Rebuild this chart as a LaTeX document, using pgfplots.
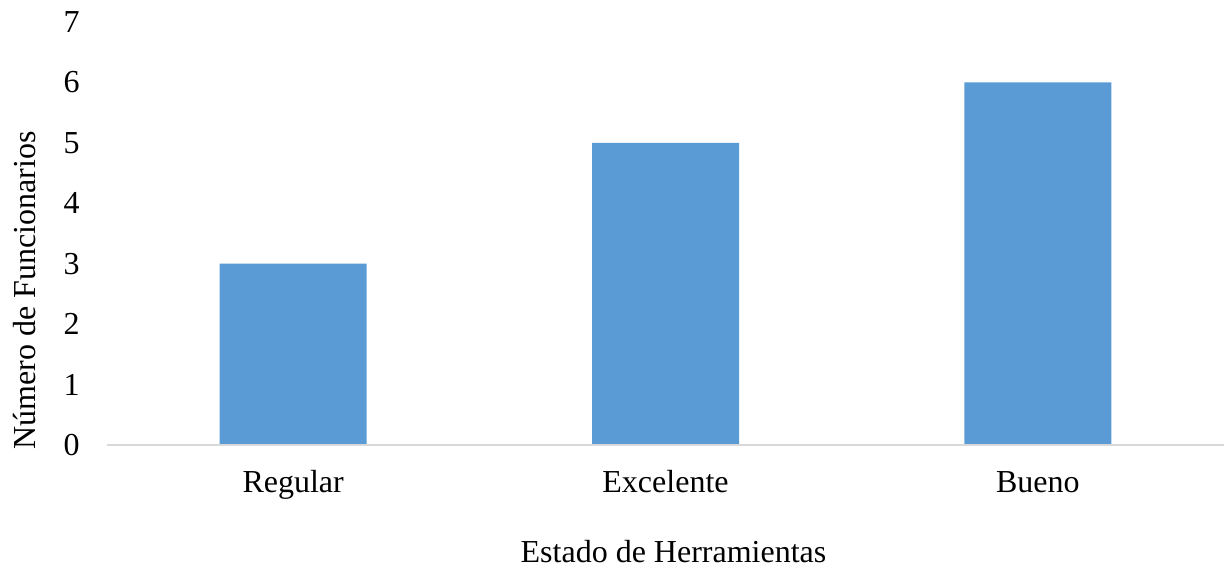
\documentclass[border=0pt]{standalone}
\usepackage{pgfplots}
\pgfplotsset{compat=1.18}
\usepackage{fontspec}
\setmainfont{Liberation Serif}
\definecolor{barblue}{HTML}{5B9BD5}
\definecolor{axisgray}{HTML}{D9D9D9}

\begin{document}
\begin{tikzpicture}
\begin{axis}[
  name=ax,
  scale only axis,
  width=558.5pt, height=211.5pt,
  ymin=0, ymax=7,
  xmin=-0.5, xmax=2.5,
  ytick={0,1,...,7},
  xtick={0,1,2},
  xticklabels={Regular, Excelente, Bueno},
  major tick length=0pt,
  axis line style={draw=none},
  axis x line*=bottom,
  axis y line*=left,
  font=\fontsize{16}{19}\selectfont,
  /pgf/number format/assume math mode=true,
  yticklabel style={anchor=east, inner sep=0pt, xshift=-13.5pt},
  xticklabel style={anchor=base, inner sep=0pt, yshift=-24pt},
  xlabel={Estado de Herramientas},
  ylabel={Número de Funcionarios},
  xlabel style={at={(axis description cs:0.5,0)}, anchor=base, inner sep=0pt, yshift=-59pt, xshift=4pt},
  ylabel style={at={(axis description cs:0,0.366)}, anchor=center, inner sep=0pt, yshift=41pt},
  clip=false,
]
\addplot[ybar, bar width=73.5pt, fill=barblue, draw=none] coordinates {(0,3) (1,5) (2,6)};
\draw[axisgray, line width=1pt] (rel axis cs:0,0) -- (rel axis cs:1,0);
\end{axis}
\path[use as bounding box] ([shift={(-53.5pt,-62pt)}]ax.south west) rectangle ([shift={(0.5pt,11pt)}]ax.north east);
\end{tikzpicture}
\end{document}
